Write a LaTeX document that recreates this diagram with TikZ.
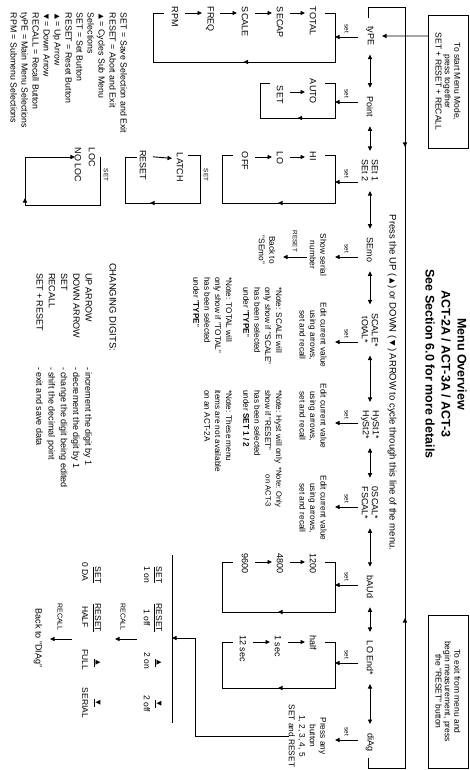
\documentclass[tikz,border=0pt]{standalone}
\usepackage{fontspec}
\setmainfont{Liberation Sans}
\usetikzlibrary{arrows.meta,calc,decorations.markings}
\newcommand\setarr[3]{\draw[arr] (#1) ++(#2,-12) -- ++(0,-23) node[setlbl,midway,left=4pt] {#3};}
\newcommand\larr[3]{\draw[arr,shorten <=10pt,shorten >=8pt] ($(#1.west)+(#3,0)$) -- ($(#2.west)+(#3,0)$);}
\begin{document}
\begin{tikzpicture}[x=1pt,y=1pt,
  every node/.style={inner sep=0pt,outer sep=0pt},
  Tr/.tip={Triangle[length=4.5pt,width=4.2pt]},
  ln/.style={line width=0.9pt},
  arr/.style={ln,-Tr},
  dbl/.style={ln,Tr-Tr,shorten <=9pt,shorten >=9pt},
  mainitem/.style={font=\fontsize{9}{10}\selectfont,align=center},
  subitem/.style={font=\fontsize{9}{10}\selectfont,anchor=west},
  setlbl/.style={font=\fontsize{6.3}{6.3}\selectfont},
  desc/.style={font=\fontsize{8.3}{10.5}\selectfont,align=center},
  notetext/.style={font=\fontsize{8.2}{10.9}\selectfont,align=left,anchor=north west},
  tbl/.style={font=\fontsize{8.5}{9}\selectfont},
  markarrow/.style={postaction={decorate},decoration={markings,mark=at position #1 with {\arrow{Tr}}}},
  boxed/.style={draw,ln,minimum width=133pt,minimum height=40pt,align=center,font=\fontsize{8.5}{9.3}\selectfont},
]
\useasboundingbox (0,0) rectangle (469,-770);
\begin{scope}[rotate=-90,transform shape]
% boxes and title
\node[boxed] (start) at (81.5,448) {To start Menu Mode,\\press together\\SET + RESET + RECALL};
\node[boxed,minimum width=153pt] (exit) at (691.5,448) {To exit from menu and\\begin measurement, press\\the "RESET" button};
\node[font=\fontsize{12.5}{16}\selectfont\bfseries,align=center] (title) at (364,446) {Menu Overview\\ACT-2A / ACT-3A / ACT-3\\See Section 6.0 for more details};
% main row
\node[mainitem] (type) at (36,370) {tyPE};
\node[mainitem] (point) at (107,370) {Point};
\node[mainitem] (set12) at (171,370) {SEt 1\\SEt 2};
\node[mainitem] (semo) at (250,370) {SEmo};
\node[mainitem] (scale) at (330,370) {SCALE*\\tOtAL*};
\node[mainitem] (hyst) at (425,370) {HySt1*\\HySt2*};
\node[mainitem] (oscal) at (503,370) {0SCAL*\\FSCAL*};
\node[mainitem] (baud) at (587,370) {bAUd};
\node[mainitem] (loend) at (658,370) {LO End*};
\node[mainitem] (diag) at (742,370) {diAg};
\foreach \a/\b in {type/point,point/set12,set12/semo,semo/scale,scale/hyst,hyst/oscal,oscal/baud,baud/loend,loend/diag}
  \draw[dbl] (\a) -- (\b);
\draw[arr,shorten >=8pt] ($(start.south west)!0.158!(start.south east)$) -- (type.north);
\coordinate (lpa) at (18,368);
\coordinate (lpb) at (758,368);
\draw[ln,postaction={decorate},decoration={markings,mark=at position 188pt with {\arrow{Tr}},mark=at position 659pt with {\arrowreversed{Tr}}}]
  (lpa) -- (7,368) -- (7,405) -- (768,405) -- (768,368) -- (lpb);
\node[font=\fontsize{9.5}{10}\selectfont] (press) at (382.5,392) {Press the UP (▲) or DOWN (▼) ARROW to cycle through this line of the menu.};
% set arrows
\setarr{type}{1}{set}
\setarr{point}{-5}{set}
\setarr{set12}{11}{set}
\setarr{semo}{7}{set}
\setarr{scale}{12}{set}
\setarr{hyst}{-2}{set}
\setarr{oscal}{4}{set}
\setarr{baud}{-2}{set}
\setarr{loend}{5}{set}
\setarr{diag}{-2}{set}
% type submenu
\node[subitem] (total) at (7,313) {TOTAL};
\node[subitem] (secap) at (7,280) {SECAP};
\node[subitem] (scl) at (7,245) {SCALE};
\node[subitem] (freq) at (7,210) {FREQ};
\node[subitem] (rpm) at (7,175) {RPM};
\larr{rpm}{freq}{6}\larr{freq}{scl}{6}\larr{scl}{secap}{6}\larr{secap}{total}{6}
\draw[ln,markarrow=0.5] (13,325) -- (13,335) -- (62,335) -- (62,153) -- (13,153) -- (13,164);
% point submenu
\node[subitem] (auto) at (79,313) {AUTO};
\node[subitem] (pset) at (86,280) {SET};
\draw[arr,shorten <=10pt,shorten >=8pt] ($(pset.west)+(6,0)$) -- ($(auto.west)+(13,0)$);
\draw[ln,markarrow=0.5] (83,325) -- (83,335) -- (118,335) -- (118,260) -- (83,260) -- (83,270);
% set submenu
\node[subitem] (hi) at (152,313) {HI};
\node[subitem] (lo) at (152,280) {LO};
\node[subitem] (off) at (152,245) {OFF};
\larr{off}{lo}{5}\larr{lo}{hi}{5}
\draw[ln,markarrow=0.5] (155,325) -- (155,335) -- (203,335) -- (203,222) -- (155,222) -- (155,233);
\node[subitem] (latch) at (153,180) {LATCH};
\node[subitem] (rst) at (150,143) {RESET};
\larr{rst}{latch}{6}
\draw[ln,markarrow=110pt] (155,188) -- (155,200) -- (203,200) -- (203,125) -- (157,125) -- (157,137);
\node[setlbl] at (175,206) {SET};
\node[subitem] (loc) at (148,92) {LOC};
\node[subitem] (noloc) at (148,78) {NO LOC};
\draw[ln,markarrow=130pt] (157,100) -- (205,100) -- (205,25) -- (157,25) -- (157,60);
\draw[arr] (157,58) -- (noloc.south -| 157,0);
\node[setlbl] at (175,106) {SET};
% semo
\node[desc] (semod) at (255,318) {Show serial\\number};
\draw[arr] (semod) ++(2,-11) -- ++(0,-24) node[setlbl,midway,left=5pt] {RESET};
\node[desc] (back) at (250,267) {Back to\\"SEmo"};
% descriptions
\node[desc] (scaled) at (335,313) {Edit current value\\using arrows,\\set and recall};
\node[desc] (hystd) at (416,313) {Edit current value\\using arrows,\\set and recall};
\node[desc] (oscald) at (508,313) {Edit current value\\using arrows,\\set and recall};
\node[desc] (diagd) at (736,307.5) {Press any\\button\\1, 2, 3, 4, 5\\SET and RESET};
% notes
\node[notetext] (n1) at (287,282) {*Note: SCALE will\\only show if "SCALE"\\has been selected\\under "\textbf{TYPE}"};
\node[notetext] (n2) at (277,232) {*Note: TOTAL will\\only show if "TOTAL"\\has been selected\\under "\textbf{TYPE}"};
\node[notetext] (n3) at (390,282) {*Note: Hyst will only\\show if "RESET"\\has been selected\\under \textbf{SET 1 / 2}};
\node[notetext,font=\fontsize{7.6}{10.9}\selectfont,align=right,anchor=north east] (n4) at (507,282) {*Note: Only\\on ACT-3};
\node[notetext] (n5) at (390,232) {*Note: These menu\\items are not available\\on an ACT-2A};
% baud submenu
\node[subitem] (b1) at (553,313) {1200};
\node[subitem] (b2) at (553,280) {4800};
\node[subitem] (b3) at (553,245) {9600};
\larr{b3}{b2}{9}\larr{b2}{b1}{9}
\draw[ln,markarrow=0.5] (562,325) -- (562,335) -- (612,335) -- (612,222) -- (562,222) -- (562,233);
% lo end submenu
\node[subitem] (h1) at (635,313) {half};
\node[subitem] (h2) at (635,278) {1 sec};
\node[subitem] (h3) at (635,243) {12 sec};
\larr{h3}{h2}{7}\larr{h2}{h1}{7}
\draw[ln,markarrow=0.5] (642,325) -- (642,335) -- (688,335) -- (688,222) -- (642,222) -- (642,233);
% diag table
\draw[ln] (555,172) -- (723,172);
\coordinate (bar) at (638,172);
\draw[arr] (diagd.south) -- (736,195) -- (638,195) -- (bar);
\node[tbl] (ta1) at (575,158) {\underline{SET}};
\node[tbl] (ta2) at (618,158) {\underline{RESET}};
\node[tbl] (ta3) at (663,158) {\underline{▲}};
\node[tbl] (ta4) at (704,158) {\underline{▼}};
\node[tbl] (va1) at (575,147) {1 on};
\node[tbl] (va2) at (618,147) {1 off};
\node[tbl] (va3) at (661,147) {2 on};
\node[tbl] (va4) at (704,147) {2 off};
\node[tbl] (tb1) at (575,97) {\underline{SET}};
\node[tbl] (tb2) at (618,97) {\underline{RESET}};
\node[tbl] (tb3) at (663,97) {\underline{▲}};
\node[tbl] (tb4) at (703,97) {\underline{▼}};
\node[tbl] (vb1) at (572,85) {0 DA};
\node[tbl] (vb2) at (617,85) {HALF};
\node[tbl] (vb3) at (660,85) {FULL};
\node[tbl] (vb4) at (703,85) {SERIAL};
\node[font=\fontsize{7}{7}\selectfont] (rc1) at (617,123) {RECALL};
\draw[arr] (rc1) ++(22,14) -- ++(0,-22);
\node[font=\fontsize{7}{7}\selectfont] (rc2) at (617,60) {RECALL};
\draw[arr] (rc2) ++(22,12) -- ++(0,-22);
\node[tbl,font=\fontsize{9}{9}\selectfont] (backd) at (638,38) {Back to "DIAg"};
% changing digits
\node[font=\fontsize{9.5}{10}\selectfont,anchor=west] (cd) at (263,113) {CHANGING DIGITS:};
\node[font=\fontsize{9}{12.3}\selectfont,align=left,anchor=north west] (cdk) at (273,92) {UP ARROW\\DOWN ARROW\\SET\\RECALL\\SET + RESET};
\node[font=\fontsize{9}{12.3}\selectfont,align=left,anchor=north west] (cdv) at (367,92) {- increment the digit by 1\\- decrement the digit by 1\\- change the digit being edited\\- shift the decimal point\\- exit and save data};
% legend
\node[font=\fontsize{8.8}{11}\selectfont,align=left,anchor=north west] (legend) at (13,127) {SET = Save Selection and Exit\\RESET = Abort and Exit\\▲= Cycles Sub Menu\\Selections\\SET = Set Button\\RESET = Reset Button\\▲= Up Arrow\\▼= Down Arrow\\RECALL = Recall Button\\tyPE = Main Menu Selections\\RPM = Submenu Selections};
\end{scope}
\end{tikzpicture}
\end{document}
